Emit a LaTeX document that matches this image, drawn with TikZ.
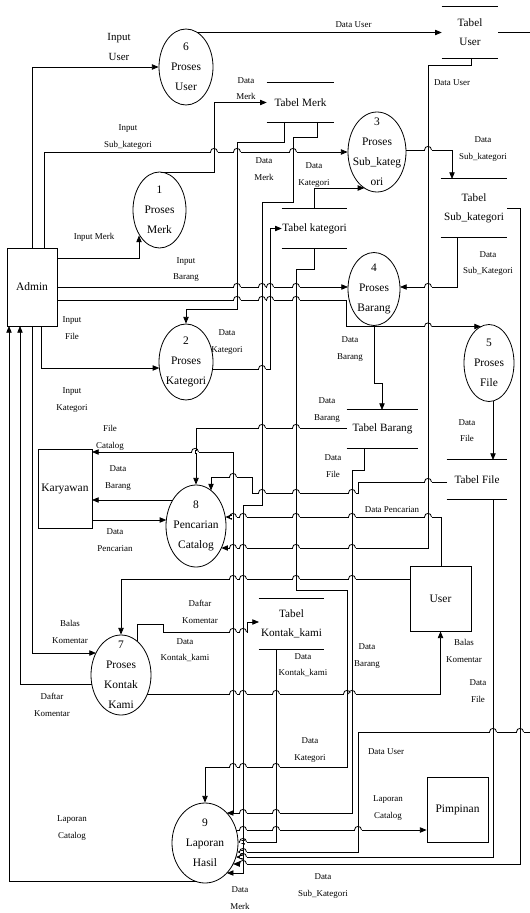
\documentclass[tikz,border=0pt]{standalone}
\usepackage{fontspec}
\setmainfont{Liberation Serif}
\usetikzlibrary{arrows.meta,shapes.geometric}
\tikzset{
  ln/.style={line width=0.6pt},
  arr/.style={ln,-{Triangle[length=5pt,width=4pt]}},
  lbl/.style={font=\fontsize{6.7}{12.5}\selectfont, align=center, inner sep=0pt},
  biglbl/.style={font=\fontsize{8.2}{15}\selectfont, align=center, inner sep=0pt},
  proc/.style={draw, ln, ellipse, inner sep=0pt},
  ptext/.style={font=\fontsize{8.6}{15}\selectfont, align=center, inner sep=0pt},
  ent/.style={draw, ln, rectangle, inner sep=0pt, align=center, font=\fontsize{8.6}{12}\selectfont},
  store/.style={inner sep=0pt, align=center, font=\fontsize{8.4}{14.2}\selectfont},
}
\newcommand\hop[2]{%
  \fill[white] (#1-3.5,#2-0.9) rectangle (#1+3.5,#2+0.9);
  \draw[ln] (#1,#2-1.6) -- (#1,#2+1.6);
  \draw[ln] (#1-3.5,#2) .. controls (#1-3.5,#2-4.8) and (#1+3.5,#2-4.8) .. (#1+3.5,#2);}
\newcommand\datastore[6]{%
  \node[store, minimum width=#4*0.75pt, minimum height=#5*0.75pt] (#1) at (#2,#3) {#6};
  \draw[ln] (#1.north west) -- (#1.north east);
  \draw[ln] (#1.south west) -- (#1.south east);}
\newcommand\proc[6]{%
  \node[proc, minimum width=#4*0.75pt, minimum height=#5*0.75pt,
        label={[ptext]center:{#6}}] (#1) at (#2,#3) {};}
\begin{document}
\begin{tikzpicture}[x=0.75pt,y=-0.75pt]
\useasboundingbox (0,0) rectangle (530,913);
% entities
\node[ent, minimum width=50*0.75pt, minimum height=78*0.75pt] (admin) at (32,287) {Admin};
\node[ent, minimum width=54*0.75pt, minimum height=79*0.75pt] (kary) at (65,488.5) {Karyawan};
\node[ent, minimum width=61*0.75pt, minimum height=65*0.75pt] (user) at (440.5,598.5) {User};
\node[ent, minimum width=61*0.75pt, minimum height=65*0.75pt] (pim) at (457.5,809.5) {Pimpinan};
% processes
\proc{p6}{186}{67}{54}{76}{6\\Proses\\User}
\proc{p1}{159.5}{210}{53}{76}{1\\Proses\\Merk}
\proc{p3}{377}{152}{58}{80}{3\\Proses\\Sub\_kateg\\ori}
\proc{p4}{374}{289}{52}{73}{4\\Proses\\Barang}
\proc{p5}{489}{363}{50}{77}{5\\Proses\\File}
\proc{p2}{186}{362}{54}{76}{2\\Proses\\Kategori}
\proc{p8}{196}{526}{60}{82}{8\\Pencarian\\Catalog}
\proc{p7}{121}{675}{60}{80}{7\\Proses\\Kontak\\Kami}
\proc{p9}{205}{843}{66}{80}{9\\Laporan\\Hasil}
% data stores
\datastore{tu}{470}{32.5}{56}{51}{Tabel\\User}
\datastore{tm}{300.5}{102.5}{67}{39}{Tabel Merk}
\datastore{tk}{314.5}{228.5}{65}{39}{Tabel kategori}
\datastore{ts}{474}{208}{66}{58}{Tabel\\Sub\_kategori}
\datastore{tb}{382.5}{429}{71}{38}{Tabel Barang}
\datastore{tf}{477}{479.5}{60}{39}{Tabel File}
\datastore{tkk}{291.5}{624}{65}{50}{Tabel\\Kontak\_kami}
% connectors
\draw[arr] (32,248) |- (p6);
\draw[arr] (44,248) |- (p3);
\draw[arr] (57,258) -| (139,235.5);
\draw[arr] (57,287) -- (348,287);
\draw[arr] (57,300) -| (346,326.5) -- (481,326.5);
\draw[arr] (41,326) |- (159.3,368);
\draw[arr] (197,32.5) -- (tu.west);
\draw[arr] (161,172.3) -| (214,102.5) -- (tm.west);
\draw[arr] (284,122) |- (237,142) -- (237,309) -| (p2);
\draw[arr] (317,122) |- (293,137) -- (293,202) -- (262,202) -- (262,505) -- (243,505) -- (243,873) -- (226.8,873);
\draw[arr] (212.5,369) -| (270,228.5) -- (tk.west);
\draw[arr] (314,209) |- (364.4,188);
\draw[arr] (314,248) |- (296,269) -- (296,590) -- (347,590) -- (347,767) -| (p9);
\draw[arr] (406,150) -| (452,179);
\draw[arr] (471,58) |- (428,65) -- (428,548) -- (221.3,548);
\draw[arr] (441,566) |- (225.3,517);
\draw[arr] (457,237) |- (400,287);
\draw[arr] (374,325.5) |- (382,383) -- (382,410);
\draw[arr] (493,401) -- (493,460);
\draw[arr] (347,428) -| (p8);
\draw[arr] (447,482) -| (358,493) -| (252,477) -| (211,490.5);
\draw[arr] (364,448) |- (352,470) -- (352,813) -- (226.8,813);
\draw[arr] (276,649) |- (238,842);
\draw[arr] (493,499) |- (235.9,857);
\draw[arr] (507,208) -| (520,864) -- (233.1,864);
\draw[ln] (tu.east) -- (530,32.5);
\draw[arr] (530,732) -| (358,852) -- (237.2,852);
\draw[arr] (236.2,830) -- (pim.west |- 0,830);
\draw[arr] (197,881.8) -| (9,326);
\draw[arr] (91.8,684) -| (20,326);
\draw[arr] (32,326) |- (96,653);
\draw[arr] (147.4,694) -| (user.south);
\draw[arr] (410,579) -| (p7);
\draw[arr] (137,641) |- (163,624) |- (247,632) |- (259,622);
\draw[arr] (172.8,500) -- (92,500);
\draw[arr] (92,520) -- (166.3,520);
\draw[arr] (233,813) -- (233,452) -- (92,452);
% hops
\foreach \x in {214,237,293} {\hop{\x}{152}}
\foreach \x in {237,262,270,296,428} {\hop{\x}{287}}
\foreach \x in {237,262,270,296} {\hop{\x}{300}}
\hop{428}{326.5}
\hop{262}{369}
\hop{428}{150}
\foreach \x in {233,243,276} {\hop{\x}{767}}
\foreach \x in {233,243,296,352} {\hop{\x}{548}}
\foreach \x in {233,243,296,352,428} {\hop{\x}{517}}
\foreach \x in {262,296} {\hop{\x}{428}}
\hop{428}{482}
\foreach \x in {262,296,352} {\hop{\x}{493}}
\hop{233}{477}
\foreach \x in {243,276} {\hop{\x}{813}}
\hop{243}{842}
\hop{243}{857}
\hop{243}{864}
\hop{243}{852}
\foreach \x in {493,520} {\hop{\x}{732}}
\foreach \x in {243,276,358} {\hop{\x}{830}}
\foreach \x in {233,243,276,347,352} {\hop{\x}{694}}
\foreach \x in {233,243,296,352} {\hop{\x}{579}}
\foreach \x in {233,243} {\hop{\x}{632}}
\hop{195}{452}
% labels
\node[biglbl] (l1) at (119,47) {Input\\User};
\node[lbl] (l2) at (353.5,25) {Data User};
\node[lbl] (l3) at (246,88.5) {Data\\Merk};
\node[lbl] (l4) at (128,137) {Input\\Sub\_kategori};
\node[lbl] (l5) at (264,169) {Data\\Merk};
\node[lbl] (l6) at (314,175) {Data\\Kategori};
\node[lbl] (l7) at (452,83) {Data User};
\node[lbl] (l8) at (483,149) {Data\\Sub\_kategori};
\node[lbl] (l9) at (94,237) {Input Merk};
\node[lbl] (l10) at (186,269.5) {Input\\Barang};
\node[lbl] (l11) at (72,328) {Input\\File};
\node[lbl] (l12) at (227,342) {Data\\Kategori};
\node[lbl] (l13) at (72,400) {Input\\Kategori};
\node[lbl] (l14) at (110,438) {File\\Catalog};
\node[lbl] (l15) at (488,263.5) {Data\\Sub\_Kategori};
\node[lbl] (l16) at (350,349) {Data\\Barang};
\node[lbl] (l17) at (327,410) {Data\\Barang};
\node[lbl] (l18) at (333,466) {Data\\File};
\node[lbl] (l19) at (467,430.5) {Data\\File};
\node[lbl] (l20) at (118,478) {Data\\Barang};
\node[lbl] (l21) at (115,540) {Data\\Pencarian};
\node[lbl] (l22) at (392,510) {Data Pencarian};
\node[lbl] (l23) at (200,612) {Daftar\\Komentar};
\node[lbl] (l24) at (185,650) {Data\\Kontak\_kami};
\node[lbl] (l25) at (70,632) {Balas\\Komentar};
\node[lbl] (l26) at (303,665) {Data\\Kontak\_kami};
\node[lbl] (l27) at (367,656) {Data\\Barang};
\node[lbl] (l28) at (464,651) {Balas\\Komentar};
\node[lbl] (l29) at (478,691) {Data\\File};
\node[lbl] (l30) at (52,705) {Daftar\\Komentar};
\node[lbl] (l31) at (310,750) {Data\\Kategori};
\node[lbl] (l32) at (386,752) {Data User};
\node[lbl] (l33) at (388,808) {Laporan\\Catalog};
\node[lbl] (l34) at (72,828) {Laporan\\Catalog};
\node[lbl] (l35) at (323,886) {Data\\Sub\_Kategori};
\node[lbl] (l36) at (240,898) {Data\\Merk};
\end{tikzpicture}
\end{document}
